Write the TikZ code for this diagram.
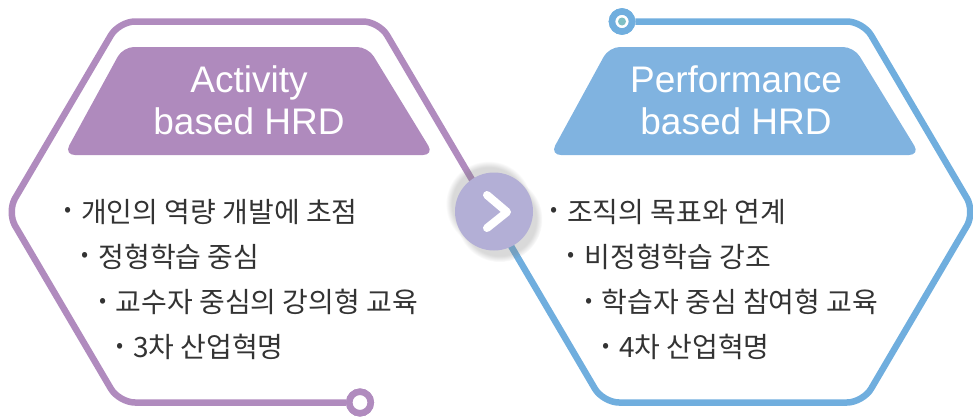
\documentclass[tikz,border=0pt]{standalone}
\usepackage{fontspec}
\setmainfont{Noto Sans CJK KR}
\newfontfamily\headfont{Liberation Sans}
\usepackage{tikz}
\usetikzlibrary{shadows,fadings}
\definecolor{actline}{HTML}{B08BBE}
\definecolor{actfill}{HTML}{AF8ABD}
\definecolor{perfline}{HTML}{70AEDE}
\definecolor{perffill}{HTML}{80B3E0}
\definecolor{turnfill}{HTML}{B3AFD6}
\definecolor{dotteal}{HTML}{7FBFC4}
\definecolor{bodytext}{HTML}{333333}
\newcommand{\dotmark}{\makebox[0pt]{\raisebox{5.5pt}{\fontsize{21pt}{21pt}\selectfont •}}\hspace{13pt}}
\tikzset{
  frame/.style={line width=6.5pt,rounded corners=16pt,line join=round},
  ring/.style={circle,line width=6.5pt,fill=white,inner sep=0pt},
  head/.style={text=white,font=\headfont\fontsize{37pt}{42pt}\selectfont,align=center,inner sep=0pt},
  item/.style={text=bodytext,font=\fontsize{28pt}{30pt}\selectfont,anchor=base west,inner sep=0pt}
}
\begin{document}
\begin{tikzpicture}[x=1pt,y=-1pt]
\useasboundingbox (0,0) rectangle (973,418);
% end rings of the two outlines
\node[ring,draw=actline,minimum size=21.5pt] (actend) at (360,402.5) {};
\node[ring,draw=perfline,minimum size=20pt] (perfend) at (622,21.5) {};
\draw[frame,actline] (actend) -- (119,402.5) -- (7,212) -- (119,21.5) -- (379,21.5) -- (491,212);
\draw[frame,perfline] (491,212) -- (603,402.5) -- (863,402.5) -- (975,212) -- (863,21.5) -- (perfend);
\node[ring,draw=actline,minimum size=21.5pt] at (actend) {};
\node[ring,draw=perfline,minimum size=20pt] at (perfend) {};
\fill[dotteal] (perfend) circle (4);
% headers
\fill[actfill,rounded corners=11pt] (64,155) -- (123,47) -- (368,47) -- (434,155) -- cycle;
\node[head] (acthead) at (249,100) {Activity\\based HRD};
\fill[perffill,rounded corners=11pt] (550,155) -- (609,47) -- (854,47) -- (920,155) -- cycle;
\node[head] (perfhead) at (736,100) {Performance\\based HRD};
% bullet lists
\foreach \i/\txt in {0/개인의 역량 개발에 초점,1/정형학습 중심,2/교수자 중심의 강의형 교육,3/3차 산업혁명}
  \node[item] (act\i) at (68+17.3*\i,222+45.3*\i) {\dotmark\txt};
\foreach \i/\txt in {0/조직의 목표와 연계,1/비정형학습 강조,2/학습자 중심 참여형 교육,3/4차 산업혁명}
  \node[item] (perf\i) at (554+17.3*\i,222+45.3*\i) {\dotmark\txt};
% arrow in the middle
\node[circle,fill=turnfill,minimum size=78pt,inner sep=0pt,
  circular drop shadow={shadow xshift=-5pt,shadow yshift=7pt,shadow scale=1.1,opacity=.3},
  circular drop shadow={shadow xshift=5pt,shadow yshift=-7pt,shadow scale=1.1,opacity=.3}] (turn) at (494,211.5) {};
\draw[white,line width=8pt,line cap=round,line join=round]
  ([shift={(-7,-16.5)}]turn.center) -- ([shift={(13,0.5)}]turn.center) -- ([shift={(-7,16.5)}]turn.center);
\end{tikzpicture}
\end{document}
